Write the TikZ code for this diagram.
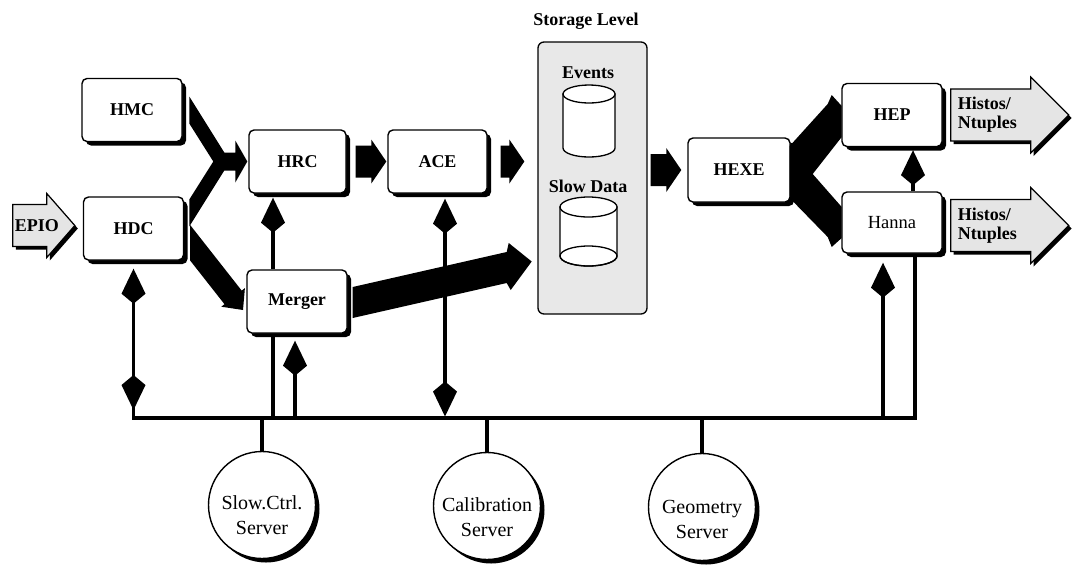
\documentclass[tikz,border=0pt]{standalone}
\usepackage{fontspec}
\setmainfont{Liberation Serif}
\usetikzlibrary{arrows.meta,shadows,calc}

\newcommand{\boldlbl}{\fontsize{18}{19}\selectfont\bfseries}
\newcommand{\plainlbl}{\fontsize{18.5}{20}\selectfont}
\newcommand{\srvlbl}{\fontsize{20}{25}\selectfont}

% horizontal block arrow from #1 (tail) to #2 (tip), both on one level
\newcommand{\blockarrow}[2]{%
  \fill ($(#1)+(0,-16)$) -- ($(#2)+(-15,-16)$) -- ($(#2)+(-15,-22)$) -- (#2)
        -- ($(#2)+(-15,22)$) -- ($(#2)+(-15,16)$) -- ($(#1)+(0,16)$) -- cycle;}

\tikzset{
  box/.style={draw, line width=1.4pt, rounded corners=5pt, fill=white,
    minimum width=100pt, minimum height=63pt, inner sep=0pt, font=\boldlbl,
    drop shadow={shadow xshift=4pt, shadow yshift=-4pt, fill=black, opacity=1}},
  server/.style={circle, draw, line width=1.4pt, fill=white, minimum size=107pt,
    inner sep=0pt,
    drop shadow={shadow xshift=4pt, shadow yshift=-4pt, fill=black, opacity=1}},
  srvtext/.style={font=\srvlbl, align=center, inner sep=0pt},
  store/.style={draw, line width=1.3pt, rounded corners=6pt, fill=black!9,
    minimum width=109pt, minimum height=272pt, inner sep=0pt},
  cyl/.style={draw, line width=1.3pt, fill=white},
  conn/.style={line width=3.8pt},
  kitetip/.tip={Kite[length=35pt, width=24pt, inset=10pt]},
  grayarrow/.style={draw, line width=1.2pt, fill=black!10, line join=miter},
  shadowfill/.style={fill=black, xshift=3pt, yshift=-3pt},
}

\begin{document}
\begin{tikzpicture}[x=1pt, y=-1pt]
\useasboundingbox (0,0) rectangle (1073,566);

% ---------- processing boxes ----------
\node[box] (hmc) at (132,110) {HMC};
\node[box] (hdc) at (133.5,228.5) {HDC};
\node[box, minimum width=97pt] (hrc) at (297.5,161.5) {HRC};
\node[box] (merger) at (297,301.5) {Merger};
\node[box, minimum width=99pt] (ace) at (437.5,161.5) {ACE};
\node[box, minimum width=102pt, minimum height=64pt] (hexe) at (739,170) {HEXE};
\node[box] (hep) at (892,115) {HEP};
\node[box, minimum height=61pt, font=\plainlbl] (hanna) at (892,222.5) {Hanna};

% ---------- storage level ----------
\node[store] (storage) at (592.5,178) {};
\node[font=\boldlbl, anchor=base] (stlevel) at (586,25) {Storage Level};
\node[font=\boldlbl] (evlabel) at (588,73) {Events};
\node[font=\boldlbl] (sdlabel) at (588,186) {Slow Data};

% events cylinder
\coordinate (evtop) at (589,94);
\path[cyl] ([xshift=-26pt]evtop) -- ++(0,54) arc (180:0:26 and 9) -- ++(0,-54) -- cycle;
\path[cyl] (evtop) ellipse (26 and 9);
% slow data cylinder
\coordinate (sdtop) at (588.5,207);
\path[cyl] ([xshift=-28.5pt]sdtop) -- ++(0,49) arc (180:0:28.5 and 10) -- ++(0,-49) -- cycle;
\path[cyl] (sdtop) ellipse (28.5 and 10);
\draw[line width=1.3pt] ([yshift=-49pt]sdtop) ellipse (28.5 and 10);

% ---------- servers ----------
\node[server] (sc) at (262,505) {};
\node[server] (cal) at (487,506) {};
\node[server] (geo) at (702,507) {};
\node[srvtext] (sctext) at ([yshift=-10pt]sc.center) {Slow.Ctrl.\\Server};
\node[srvtext] (caltext) at ([yshift=-11pt]cal.center) {Calibration\\Server};
\node[srvtext] (geotext) at ([yshift=-12pt]geo.center) {Geometry\\Server};

% ---------- control bus ----------
\coordinate (bus) at (0,418);
\coordinate (busW) at (hdc.south |- bus);
\coordinate (mA) at ([xshift=-24pt]merger.south);
\coordinate (mB) at ([xshift=-2pt]merger.south);
\coordinate (mT) at ([xshift=-24pt]merger.north);
\coordinate (aA) at ([xshift=7.5pt]ace.south);
\coordinate (hA) at ([xshift=-9pt]hanna.south);
\coordinate (hB) at ([xshift=23pt]hanna.south);
\coordinate (hC) at ([xshift=21pt]hanna.north);

\draw[conn, line join=miter] ([yshift=12pt]busW) -- (busW) -- (hB |- bus) -- (hB);
\draw[conn, {kitetip}-{kitetip}, shorten <=8pt, shorten >=8pt] (busW) -- (hdc.south);
\draw[conn, -{kitetip}, shorten >=4pt] (mT) -- (mT |- hrc.south);
\draw[conn] (mA) -- (mA |- bus);
\draw[conn, -{kitetip}, shorten >=7pt] (mB |- bus) -- (mB);
\draw[conn, {kitetip}-{kitetip}, shorten <=1.5pt, shorten >=5pt] (aA |- bus) -- (aA);
\draw[conn, -{kitetip}, shorten >=9pt] (hA |- bus) -- (hA);
\draw[conn, -{kitetip}, shorten >=3pt] (hC) -- (hC |- hep.south);
\draw[conn] (sc.north |- bus) -- (sc.north);
\draw[conn] (cal.north |- bus) -- (cal.north);
\draw[conn] (geo.north |- bus) -- (geo.north);

% ---------- data flow (block arrows) ----------
% HMC and HDC merge into HRC
\begin{scope}[shift={(hrc.west)}]
  \fill (-59,-65) -- (-24,-9) -- (-13,-9) -- (-13,-21) -- (-1,0) -- (-13,21)
        -- (-13,9) -- (-24,9) -- (-59,65) -- (-59,38) -- (-35,0) -- (-59,-38) -- cycle;
\end{scope}
% HDC into Merger
\begin{scope}[shift={(merger.west)}]
  \fill (-56.3,-76.7) -- (-4.6,-10.9) -- (-1.4,-13.4) -- (-3.3,8.5) -- (-25,5.2)
        -- (-21.8,2.7) -- (-56.3,-41.2) -- cycle;
\end{scope}
% Merger into slow data storage
\begin{scope}[shift={(merger.east)}]
  \fill (5,-14.5) -- (159,-49.5) -- (161,-58.5) -- (184,-40) -- (163,-11.5)
        -- (159,-18.5) -- (5,16.5) -- cycle;
\end{scope}
% HEXE forks to HEP and Hanna
\begin{scope}[shift={(hexe.east)}]
  \fill (-1,-24) -- (37,-66) -- (41,-75) -- (51,-64) -- (51,-33) -- (22,4)
        -- (51,37) -- (51,68) -- (41,77) -- (37,67) -- (-1,28) -- cycle;
\end{scope}
% straight block arrows
\coordinate (f1) at ([xshift=9pt]hrc.east);
\coordinate (f2) at ([xshift=-1pt]ace.west);
\coordinate (sW) at (ace.east -| storage.west);
\coordinate (f3) at ([xshift=13pt]ace.east);
\coordinate (f4) at ([xshift=-13pt]sW);
\coordinate (sE) at (hexe.west -| storage.east);
\coordinate (f5) at ([xshift=3pt]sE);
\coordinate (f6) at ([xshift=-6pt]hexe.west);
\blockarrow{f1}{f2}
\blockarrow{f3}{f4}
\blockarrow{f5}{f6}

% ---------- input / output arrows ----------
\begin{scope}[shift={(hdc.west)}]
  \fill[shadowfill] (-70,-24) -- (-36,-24) -- (-36,-35) -- (-8,-3) -- (-36,29)
        -- (-36,18) -- (-70,18) -- cycle;
  \path[grayarrow] (-70,-24) -- (-36,-24) -- (-36,-35) -- (-8,-3) -- (-36,29)
        -- (-36,18) -- (-70,18) -- cycle;
\end{scope}
\node[font=\boldlbl, inner sep=0pt] (epio) at ([xshift=-46pt, yshift=3pt]hdc.west) {EPIO};

\begin{scope}[shift={(hep.east)}]
  \fill[shadowfill] (8,-26) -- (88,-26) -- (88,-38) -- (126,0) -- (88,38)
        -- (88,26) -- (8,26) -- cycle;
  \path[grayarrow] (8,-26) -- (88,-26) -- (88,-38) -- (126,0) -- (88,38)
        -- (88,26) -- (8,26) -- cycle;
\end{scope}
\node[font=\boldlbl, align=left, anchor=west, inner sep=0pt] (histosA)
  at ([xshift=15pt]hep.east) {Histos/\\Ntuples};

\begin{scope}[shift={(hanna.east)}]
  \fill[shadowfill] (8,-23) -- (88,-23) -- (88,-35) -- (126,3) -- (88,41)
        -- (88,29) -- (8,29) -- cycle;
  \path[grayarrow] (8,-23) -- (88,-23) -- (88,-35) -- (126,3) -- (88,41)
        -- (88,29) -- (8,29) -- cycle;
\end{scope}
\node[font=\boldlbl, align=left, anchor=west, inner sep=0pt] (histosB)
  at ([xshift=15pt, yshift=-3pt]hanna.east) {Histos/\\Ntuples};

\end{tikzpicture}
\end{document}
